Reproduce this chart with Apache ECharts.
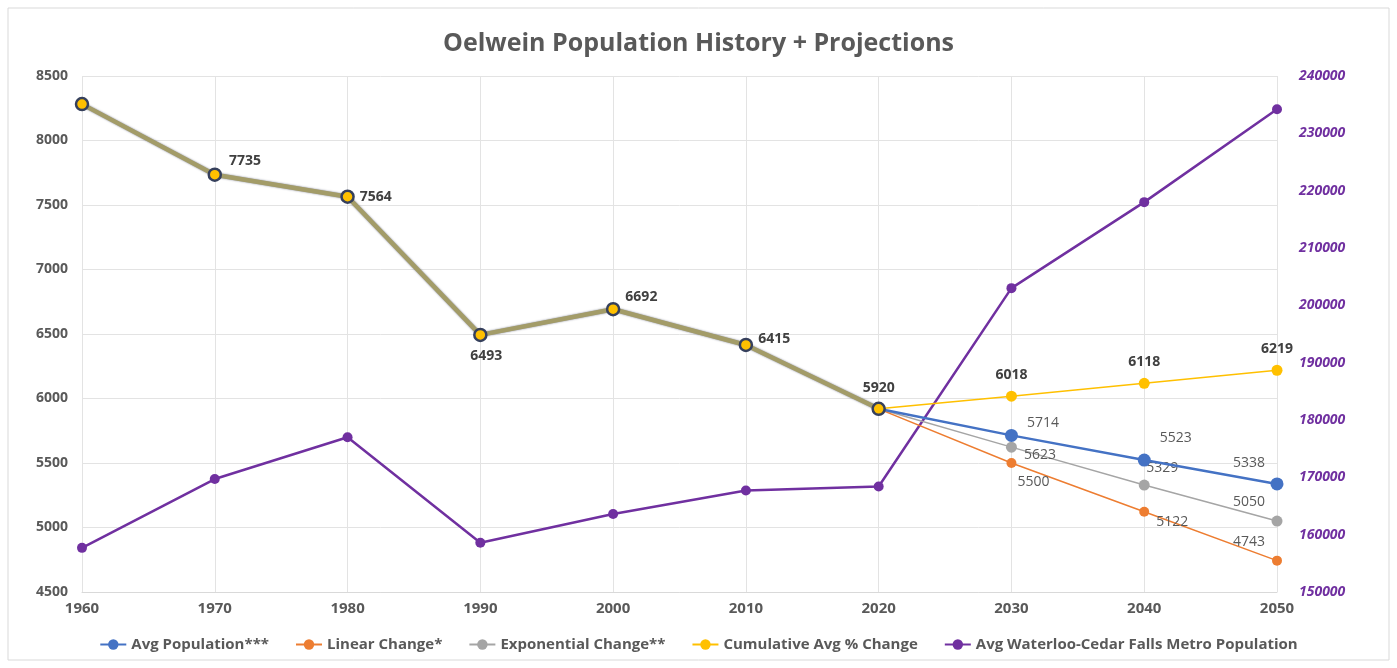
<!DOCTYPE html>
<html><head><meta charset="utf-8">
<script src="https://cdn.jsdelivr.net/npm/echarts@6/dist/echarts.min.js"></script>
<style>html,body{margin:0;padding:0;background:#fff}#c{width:1397px;height:668px}</style>
</head><body><div id="c"></div>
<script>
const years = ['1960','1970','1980','1990','2000','2010','2020','2030','2040','2050'];
const history = [8282, 7735, 7564, 6493, 6692, 6415, 5920];
const avgPopProj = [5714, 5523, 5338];
const linearProj = [5500, 5122, 4743];
const expProj = [5623, 5329, 5050];
const cumProj = [6018, 6118, 6219];
const metroPop = [157700, 169700, 177000, 158600, 163600, 167700, 168400, 203000, 218000, 234200];
const leftTicks = {min: 4500, max: 8500, interval: 500};
const rightTicks = {min: 150000, max: 240000, interval: 10000};

const FONT = '"Open Sans", "Noto Sans", sans-serif';
const TXT = '#595959';
const nHist = history.length;

function full(proj){ return history.concat(proj); }
function labelled(values, posList, bold){
  return values.map((v,i)=>{
    const p = posList[i];
    if(!p) return v;
    return {value:v, label:{show:true, position:p.pos, offset:p.off||[0,0],
      fontFamily:FONT, fontSize:14, fontWeight: bold?'bold':'normal', color: bold?'#404040':TXT}};
  });
}
const histLabelPos = [null,{pos:'right',off:[2,-14]},{pos:'right',off:[0,0]},{pos:'bottom',off:[6,2]},{pos:'right',off:[0,-12]},{pos:'right',off:[0,-6]},{pos:'top',off:[0,-2]}];
function projPos(list){ return new Array(nHist).fill(null).concat(list); }

const chart = echarts.init(document.getElementById('c'));
const mk = (name,color,width,size,proj,pos,bold,z)=>({
  name, type:'line', data: labelled(full(proj), projPos(pos), bold), yAxisIndex:0, z,
  symbol:'circle', symbolSize:size, showSymbol:true,
  lineStyle:{color, width}, itemStyle:{color},
  label:{show:false}
});
chart.setOption({
  animation:false,
  textStyle:{fontFamily:FONT},
  title:{text:'Oelwein Population History + Projections', left:'center', top:26,
    textStyle:{fontFamily:FONT, fontSize:25, fontWeight:'bold', color:TXT}},
  graphic:[{type:'rect', shape:{x:8,y:8,width:1381,height:652}, style:{fill:'none', stroke:'#d9d9d9', lineWidth:1}, silent:true}],
  grid:{left:82, right:120, top:76, bottom:76},
  legend:{bottom:11, left:'center', itemWidth:26, itemHeight:13, itemGap:26,
    data:['Avg Population***','Linear Change*','Exponential Change**','Cumulative Avg % Change','Avg Waterloo-Cedar Falls Metro Population'],
    textStyle:{fontFamily:FONT, fontSize:15, fontWeight:'bold', color:TXT}},
  xAxis:{type:'category', data:years, boundaryGap:false,
    axisLine:{lineStyle:{color:'#d9d9d9'}}, axisTick:{show:false},
    splitLine:{show:true, lineStyle:{color:'#e3e3e3'}},
    axisLabel:{fontFamily:FONT, fontSize:15, fontWeight:'bold', color:TXT, margin:9}},
  yAxis:[
    {type:'value', min:leftTicks.min, max:leftTicks.max, interval:leftTicks.interval,
      axisLine:{show:false}, axisTick:{show:false},
      splitLine:{lineStyle:{color:'#e3e3e3'}},
      axisLabel:{fontFamily:FONT, fontSize:14, fontWeight:'bold', color:TXT, margin:14, formatter:v=>String(v)}},
    {type:'value', min:rightTicks.min, max:rightTicks.max, interval:rightTicks.interval,
      axisLine:{show:false}, axisTick:{show:false}, splitLine:{show:false},
      axisLabel:{fontFamily:FONT, fontSize:14, fontWeight:'bold', fontStyle:'italic', color:'#7030A0', margin:22, formatter:v=>String(v)}}
  ],
  series:[
    mk('Avg Population***','#4472C4',2.5,13,avgPopProj,[{pos:'right',off:[4,-12]},{pos:'right',off:[4,-22]},{pos:'top',off:[-28,-2]}],false,5),
    mk('Linear Change*','#ED7D31',1.5,10,linearProj,[{pos:'bottom',off:[22,2]},{pos:'right',off:[2,10]},{pos:'top',off:[-28,-2]}],false,4),
    mk('Exponential Change**','#A5A5A5',1.5,11,expProj,[{pos:'right',off:[2,8]},{pos:'top',off:[18,0]},{pos:'top',off:[-28,-2]}],false,3),
    mk('Cumulative Avg % Change','#FFC000',1.5,11,cumProj,[{pos:'top',off:[0,-4]},{pos:'top',off:[0,-4]},{pos:'top',off:[0,-4]}],true,6),
    {name:'Historic', type:'line', z:7, data: labelled(history, histLabelPos, true),
      symbol:'circle', symbolSize:12, showSymbol:true,
      lineStyle:{color:'#a39c68', width:4.5, shadowColor:'rgba(40,45,70,0.6)', shadowBlur:2},
      itemStyle:{color:'#FFC000', borderColor:'#36405c', borderWidth:2.5}},
    {name:'Avg Waterloo-Cedar Falls Metro Population', type:'line', yAxisIndex:1, data:metroPop, z:2,
      symbol:'circle', symbolSize:10, lineStyle:{color:'#7030A0', width:2.5}, itemStyle:{color:'#7030A0'}}
  ]
});
</script></body></html>
